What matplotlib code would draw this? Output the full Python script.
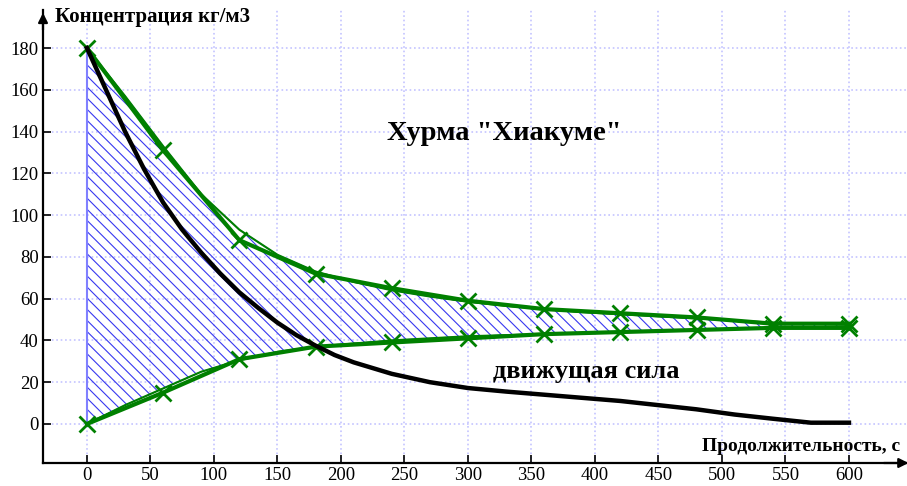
import numpy as np
import matplotlib
matplotlib.use('Agg')
import matplotlib.pyplot as plt

# measured points (time, s)
t = [0, 60, 120, 180, 240, 300, 360, 420, 480, 540, 600]
c_upper = [180, 131, 88, 72, 65, 59, 55, 53, 51, 48, 48]
c_lower = [0, 15, 31, 37, 39, 41, 43, 44, 45, 46, 46]

# smooth trend curves
t_fit = [0, 30, 60, 90, 120, 150, 180, 210, 240, 270, 300, 330, 360,
         390, 420, 450, 480, 510, 540, 570, 600]
fit_upper = [180, 157, 133, 110, 93, 81, 73, 68, 64, 61, 58.5, 56.5, 55,
             53.5, 52.5, 51.5, 50.5, 49.5, 48.5, 48, 47.5]
fit_lower = [0, 9, 17, 25, 30.5, 34.5, 37, 38.5, 40, 41, 42, 42.5, 43,
             43.5, 44, 44.5, 45, 45.5, 46, 46, 46]
# driving force curve
t_force = [0, 15, 30, 45, 60, 75, 90, 105, 120, 135, 150, 165, 180, 195,
           210, 240, 270, 300, 330, 360, 390, 420, 450, 480, 510, 540,
           570, 600]
force = [180, 160, 140, 122, 106, 93, 82, 72, 63, 55.5, 48.5, 42.5, 37.5,
         33, 29.5, 24, 20, 17.2, 15.5, 14, 12.5, 11, 9, 7, 4.5, 2.5,
         0.6, 0.6]

plt.rcParams['font.family'] = ['Liberation Serif', 'DejaVu Serif']
plt.rcParams['hatch.color'] = '#3838f0'
plt.rcParams['hatch.linewidth'] = 0.8

fig = plt.figure(figsize=(9.07, 4.86), dpi=100)
ax = fig.add_axes([43 / 907, 23 / 486, 1 - 43 / 907, 453 / 486])
ax.set_xlim(-34.6, 645.7)
ax.set_ylim(-18.7, 198.2)

ax.set_xticks(np.arange(0, 601, 50))
ax.set_yticks(np.arange(0, 181, 20))
ax.grid(True, color='#c4c4ff', linestyle=':', linewidth=1.2)
ax.set_axisbelow(True)
ax.tick_params(direction='in', length=6, width=1.2, labelsize=13.5, pad=3)
for s in ['top', 'right']:
    ax.spines[s].set_visible(False)
for s in ['left', 'bottom']:
    ax.spines[s].set_linewidth(1.6)

ax.fill_between(t_fit, fit_lower, fit_upper, facecolor='none',
                edgecolor='#3838f0', hatch='\\\\\\', linewidth=0.8)
ax.plot([0, 0], [fit_lower[0], fit_upper[0]], color='#8080ff', lw=1.5)

ax.plot(t_fit, fit_upper, color='#008000', lw=1.5)
ax.plot(t_fit, fit_lower, color='#008000', lw=1.5)
ax.plot(t, c_upper, color='#008000', lw=3, marker='x', ms=11, mew=2)
ax.plot(t, c_lower, color='#008000', lw=3, marker='x', ms=11, mew=2)
ax.plot(t_force, force, color='black', lw=3.2)

ax.text(329, 139, 'Хурма "Хиакуме"', fontsize=20.5, fontweight='bold',
        ha='center', va='center')
ax.text(393, 25, 'движущая сила', fontsize=19, fontweight='bold',
        ha='center', va='center')
ax.text(484.6, -11, 'Продолжительность, с', fontsize=14, fontweight='bold',
        ha='left', va='center', clip_on=False)
ax.text(-25.2, 195, 'Концентрация кг/м3', fontsize=15, fontweight='bold',
        ha='left', va='center', clip_on=False)

# axis arrows
ax.annotate('', xy=(0, 1.0), xytext=(0, 0.95), xycoords='axes fraction',
            arrowprops=dict(arrowstyle='-|>', color='black', lw=1.6,
                            mutation_scale=14), annotation_clip=False)
ax.annotate('', xy=(1.005, 0), xytext=(0.97, 0), xycoords='axes fraction',
            arrowprops=dict(arrowstyle='-|>', color='black', lw=1.6,
                            mutation_scale=14), annotation_clip=False)

fig.savefig('out.png', dpi=100)
